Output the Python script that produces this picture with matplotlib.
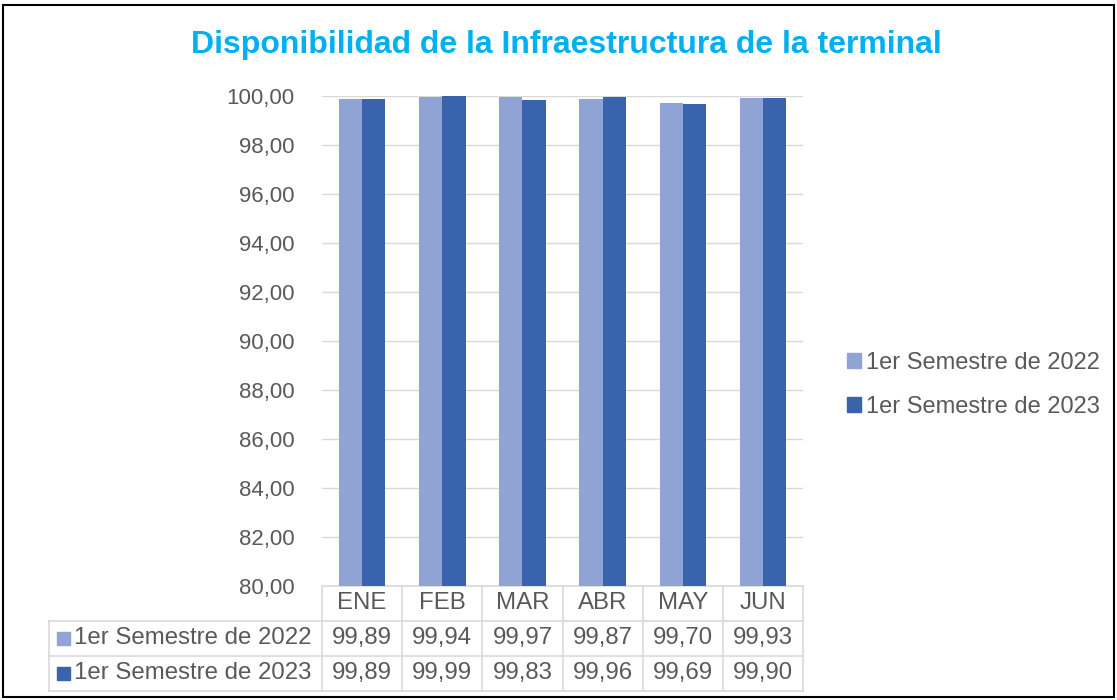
import matplotlib.pyplot as plt
import matplotlib.transforms as mtransforms
from matplotlib.patches import Rectangle, Patch
import numpy as np

plt.rcParams['font.family'] = ['Liberation Sans', 'DejaVu Sans']

meses = ["ENE", "FEB", "MAR", "ABR", "MAY", "JUN"]
series = ["1er Semestre de 2022", "1er Semestre de 2023"]
v2022 = [99.89, 99.94, 99.97, 99.87, 99.70, 99.93]
v2023 = [99.89, 99.99, 99.83, 99.96, 99.69, 99.90]
titulo = "Disponibilidad de la Infraestructura de la terminal"

c_claro = "#8fa3d5"
c_oscuro = "#3a63ad"
gris_txt = "#595959"
gris_lin = "#d9d9d9"

fig = plt.figure(figsize=(11.17, 7), dpi=100)
ax = fig.add_axes([0.2883, 0.1629, 0.4306, 0.7])

x = np.arange(len(meses))
w = 0.29
ax.bar(x - w / 2, np.array(v2022) - 80, w, bottom=80, color=c_claro, zorder=3)
ax.bar(x + w / 2, np.array(v2023) - 80, w, bottom=80, color=c_oscuro, zorder=3)

ax.set_xlim(-0.5, len(meses) - 0.5)
ax.set_ylim(80, 100)
ax.set_yticks(np.arange(80, 101, 2))
ax.set_yticklabels([f"{t:.2f}".replace(".", ",") for t in np.arange(80, 101, 2)],
                   fontsize=16, color=gris_txt)
ax.set_xticks([])
ax.tick_params(axis="y", length=0, pad=20)
for s in ax.spines.values():
    s.set_visible(False)
ax.grid(axis="y", color=gris_lin, lw=1, zorder=0)

# tabla de datos debajo del grafico
trans = mtransforms.blended_transform_factory(ax.transData, ax.transAxes)
fila = 35 / 490
izq = -0.5 - 272 / 80
der = len(meses) - 0.5
lk = dict(color=gris_lin, lw=1.2, transform=trans, clip_on=False)
ax.plot([-0.5, der], [0, 0], **lk)
for k in range(1, 4):
    ax.plot([izq, der], [-k * fila, -k * fila], **lk)
ax.plot([izq, izq], [-fila, -3 * fila], **lk)
for b in np.arange(-0.5, der + 0.01, 1):
    ax.plot([b, b], [0, -3 * fila], **lk)

fs = 17.3
for i, m in enumerate(meses):
    ax.text(i, -0.5 * fila, m, ha="center", va="center", fontsize=fs,
            color=gris_txt, transform=trans)
for j, (nombre, vals, col) in enumerate([(series[0], v2022, c_claro),
                                        (series[1], v2023, c_oscuro)]):
    yc = -(1.5 + j) * fila
    for i, v in enumerate(vals):
        ax.text(i, yc, f"{v:.2f}".replace(".", ","), ha="center", va="center",
                fontsize=fs, color=gris_txt, transform=trans)
    ax.add_patch(Rectangle((izq + 0.1, yc - 0.013), 0.16, 0.026,
                           color=col, transform=trans, clip_on=False))
    ax.text(izq + 0.3, yc, nombre, ha="left", va="center", fontsize=fs,
            color=gris_txt, transform=trans)

handles = [Patch(color=c_claro), Patch(color=c_oscuro)]
fig.legend(handles, series, loc="center left", bbox_to_anchor=(0.739, 0.45),
           frameon=False, fontsize=17, labelcolor=gris_txt,
           handlelength=0.6, handleheight=0.6, handletextpad=0.2,
           labelspacing=0.95)

fig.text(0.507, 0.935, titulo, ha="center", va="center", fontsize=23,
         fontweight="bold", color="#00b0f0")

fig.add_artist(Rectangle((0.003, 0.004), 0.994, 0.989, fill=False,
                         edgecolor="black", lw=1.5, transform=fig.transFigure))

plt.savefig("out.png", format="png", dpi=100)
